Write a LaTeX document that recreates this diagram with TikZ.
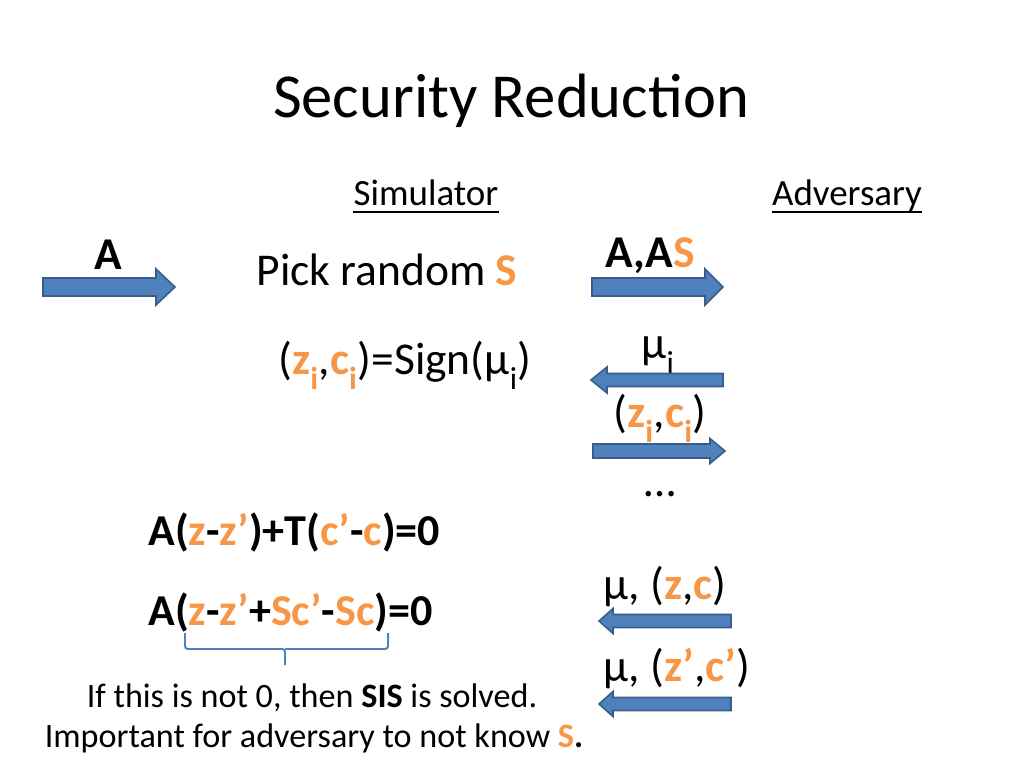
\documentclass[tikz,border=0pt]{standalone}
\usepackage{fontspec}
\setmainfont{Carlito}
\definecolor{org}{HTML}{F79646}
\definecolor{blu}{HTML}{4F81BD}
\definecolor{bdr}{HTML}{385D8A}
\newcommand{\og}[1]{\textcolor{org}{#1}}
\newcommand{\sbx}[1]{\raisebox{-0.12em}{\textsubscript{#1}}}
% block arrow: tail x, tip x, centre y, signed head length, shaft half height, head half height
\newcommand{\blockarrow}[6]{%
  \draw[barrow] (#1,{#3-#5}) -- ({#2-#4},{#3-#5}) -- ({#2-#4},{#3-#6}) -- (#2,#3)
    -- ({#2-#4},{#3+#6}) -- ({#2-#4},{#3+#5}) -- (#1,{#3+#5}) -- cycle;}
\begin{document}
\begin{tikzpicture}[x=0.703125pt,y=-0.703125pt,
  barrow/.style={fill=blu,draw=bdr,line width=1.1pt,line join=miter},
  ttl/.style={font=\fontsize{44}{50}\selectfont,inner sep=0,anchor=base},
  hd/.style={font=\fontsize{26}{30}\selectfont,inner sep=0,anchor=base},
  big/.style={font=\fontsize{32}{36}\selectfont\bfseries,inner sep=0,anchor=base},
  mid/.style={font=\fontsize{32}{36}\selectfont,inner sep=0,anchor=base},
  eq/.style={font=\fontsize{31}{36}\selectfont\bfseries,inner sep=0,anchor=base west},
  note/.style={font=\fontsize{24}{28}\selectfont,inner sep=0,anchor=base},
  uline/.style={line width=1.4pt},
  brace/.style={draw=blu,line width=1.4pt,rounded corners=2pt}]
\useasboundingbox (0,0) rectangle (1024,768);

\node[ttl] (title) at (511,118) {Security Reduction};
\node[hd] (sim) at (426,206) {Simulator};
\node[hd] (adv) at (847,206) {Adversary};
\draw[uline] ([yshift=-4.3pt]sim.base west) -- ([yshift=-4.3pt]sim.base east);
\draw[uline] ([yshift=-4.3pt]adv.base west) -- ([yshift=-4.3pt]adv.base east);

\node[big] (la) at (108,270) {A};
\blockarrow{43}{175}{287}{19}{9}{18}
\node[mid] (pick) at (387,286) {Pick random \textbf{\og{S}}};

\node[big] (laas) at (650,268) {A,A\og{S}};
\blockarrow{592}{723}{287}{18}{9}{18}

\node[mid] (mui) at (658,358) {μ\sbx{i}};
\blockarrow{723}{591}{380}{-16}{6.5}{13}
\node[mid] (sign) at (405,374) {(\textbf{\og{z\sbx{i}}},\textbf{\og{c\sbx{i}}})=Sign(μ\sbx{i})};

\node[mid] (zci) at (660,427) {(\textbf{\og{z\sbx{i}}},\textbf{\og{c\sbx{i}}})};
\blockarrow{593}{725}{451}{15}{7}{12.5}
\node[mid] (dots) at (660,496) {…};

\node[eq] (eq1) at (148,545) {A(\og{z}-\og{z’})+T(\og{c’}-\og{c})=0};
\node[eq] (eq2) at (148,625) {A(\og{z}-\og{z’}+\og{Sc’}-\og{Sc})=0};
\draw[brace] (185,633) -- (185,649) -- (285,649) -- (285,665);
\draw[brace] (285,649) -- (388,649) -- (388,633);

\node[mid] (muzc) at (665,599) {μ, (\textbf{\og{z}},\textbf{\og{c}})};
\blockarrow{731}{599}{621}{-14}{6.5}{12.5}
\node[mid] (muzc2) at (677,681) {μ, (\textbf{\og{z’}},\textbf{\og{c’}})};
\blockarrow{731}{599}{704}{-14}{6.5}{12.5}

\node[note] (n1) at (312,707) {If this is not 0, then \textbf{SIS} is solved.};
\node[note] (n2) at (314,747) {Important for adversary to not know \textbf{\og{S}.}};
\end{tikzpicture}
\end{document}
